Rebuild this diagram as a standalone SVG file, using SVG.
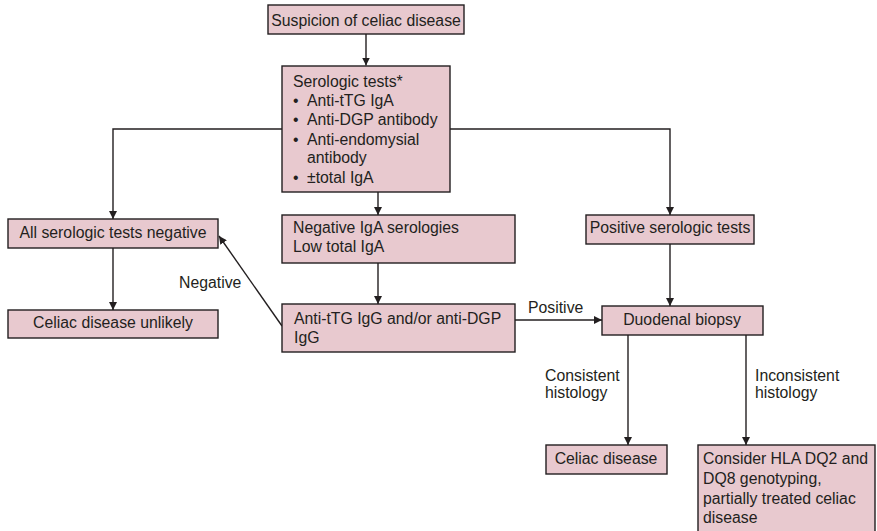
<svg xmlns="http://www.w3.org/2000/svg" width="877" height="531" viewBox="0 0 877 531">
  <style>
    .box { fill: #e8c9cf; stroke: #231f20; stroke-width: 1.4; }
    .txt { font-family: "Liberation Sans", Arial, sans-serif; font-size: 15.8px; fill: #231f20; }
    .mid { text-anchor: middle; }
    .wire { fill: none; stroke: #231f20; stroke-width: 1.4; }
  </style>
  <defs>
    <marker id="arrow" viewBox="0 0 10 10" refX="10" refY="5" markerWidth="8" markerHeight="8" markerUnits="userSpaceOnUse" orient="auto">
      <path d="M0,0 L10,5 L0,10 Z" fill="#231f20"/>
    </marker>
  </defs>

  <rect width="877" height="531" fill="#ffffff"/>

  <!-- connectors -->
  <g id="connectors">
    <path class="wire" d="M366,34 V65.5" marker-end="url(#arrow)"/>
    <path class="wire" d="M282,129 H113 V219" marker-end="url(#arrow)"/>
    <path class="wire" d="M450,129 H670 V215" marker-end="url(#arrow)"/>
    <path class="wire" d="M378,192 V215" marker-end="url(#arrow)"/>
    <path class="wire" d="M378,263 V304" marker-end="url(#arrow)"/>
    <path class="wire" d="M113,248 V310" marker-end="url(#arrow)"/>
    <path class="wire" d="M282,326 L219,236" marker-end="url(#arrow)"/>
    <path class="wire" d="M515,320 H602" marker-end="url(#arrow)"/>
    <path class="wire" d="M670,244 V306" marker-end="url(#arrow)"/>
    <path class="wire" d="M628,335 V445" marker-end="url(#arrow)"/>
    <path class="wire" d="M746,335 V445" marker-end="url(#arrow)"/>
    <text class="txt" x="179" y="288">Negative</text>
    <text class="txt" x="528" y="313">Positive</text>
    <text class="txt" x="545" y="381">Consistent</text>
    <text class="txt" x="545" y="398">histology</text>
    <text class="txt" x="755" y="381">Inconsistent</text>
    <text class="txt" x="755" y="398">histology</text>
  </g>

  <g id="suspicion">
    <rect class="box" x="268" y="5" width="196" height="29"/>
    <text class="txt mid" x="366" y="26">Suspicion of celiac disease</text>
  </g>

  <g id="serologic-tests">
    <rect class="box" x="282" y="66" width="168" height="126"/>
    <text class="txt" x="293" y="87">Serologic tests*</text>
    <text class="txt" x="293" y="106">•</text>
    <text class="txt" x="307" y="106">Anti-tTG IgA</text>
    <text class="txt" x="293" y="125">•</text>
    <text class="txt" x="307" y="125">Anti-DGP antibody</text>
    <text class="txt" x="293" y="145">•</text>
    <text class="txt" x="307" y="145">Anti-endomysial</text>
    <text class="txt" x="307" y="163">antibody</text>
    <text class="txt" x="293" y="183">•</text>
    <text class="txt" x="307" y="183">±total IgA</text>
  </g>

  <g id="all-negative">
    <rect class="box" x="8" y="219" width="210" height="29"/>
    <text class="txt mid" x="113" y="238">All serologic tests negative</text>
  </g>

  <g id="unlikely">
    <rect class="box" x="8" y="310" width="210" height="28"/>
    <text class="txt mid" x="113" y="328">Celiac disease unlikely</text>
  </g>

  <g id="low-iga">
    <rect class="box" x="282" y="215" width="233" height="48"/>
    <text class="txt" x="293" y="233">Negative IgA serologies</text>
    <text class="txt" x="293" y="252">Low total IgA</text>
  </g>

  <g id="igg-tests">
    <rect class="box" x="282" y="304" width="233" height="48"/>
    <text class="txt" x="294" y="324">Anti-tTG IgG and/or anti-DGP</text>
    <text class="txt" x="294" y="343">IgG</text>
  </g>

  <g id="positive">
    <rect class="box" x="586" y="215" width="168" height="29"/>
    <text class="txt mid" x="670" y="233">Positive serologic tests</text>
  </g>

  <g id="biopsy">
    <rect class="box" x="602" y="306" width="161" height="29"/>
    <text class="txt mid" x="682" y="325">Duodenal biopsy</text>
  </g>

  <g id="celiac">
    <rect class="box" x="546" y="445" width="121" height="29"/>
    <text class="txt mid" x="606" y="464">Celiac disease</text>
  </g>

  <g id="genotyping">
    <rect class="box" x="698" y="445" width="177" height="90"/>
    <text class="txt" x="703" y="464">Consider HLA DQ2 and</text>
    <text class="txt" x="703" y="484">DQ8 genotyping,</text>
    <text class="txt" x="703" y="504">partially treated celiac</text>
    <text class="txt" x="703" y="523">disease</text>
  </g>
</svg>
